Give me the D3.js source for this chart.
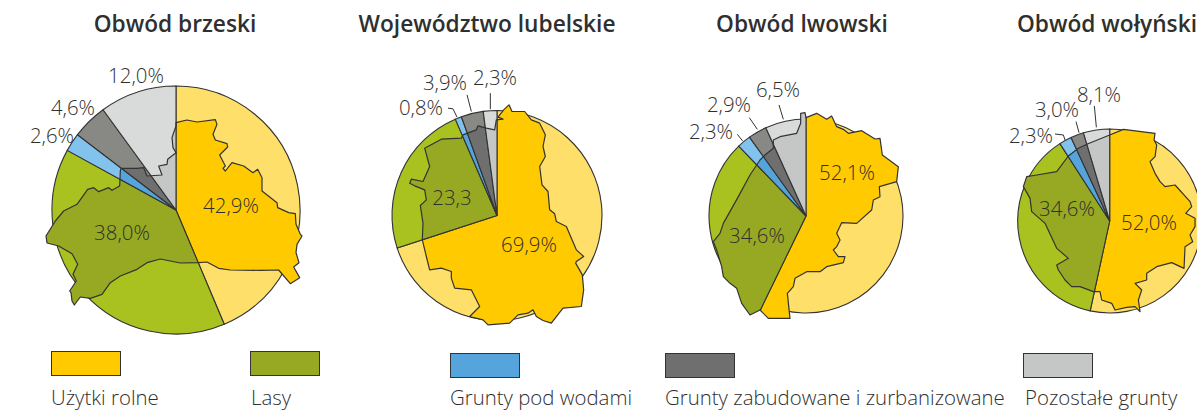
<!DOCTYPE html>
<html>
<head>
<meta charset="utf-8">
<script src="https://cdn.jsdelivr.net/npm/d3@7"></script>
<style>
  html, body { margin: 0; background: #fff; overflow: hidden; }
  text { font-family: "Open Sans", "Noto Sans", sans-serif; fill: #2f2f2e; font-weight: 300; }
</style>
</head>
<body>
<div id="chart"></div>
<script>
var categories = ['Użytki rolne', 'Lasy', 'Grunty pod wodami', 'Grunty zabudowane i zurbanizowane', 'Pozostałe grunty'];
var regions = ['Obwód brzeski', 'Województwo lubelskie', 'Obwód lwowski', 'Obwód wołyński'];

// printed percentages
var brzeskiLabels = ['42,9%', '38,0%', '2,6%', '4,6%', '12,0%'];
var lubelskieLabels = ['69,9%', '23,3', '0,8%', '3,9%', '2,3%'];
var lwowskiLabels = ['52,1%', '34,6%', '2,3%', '2,9%', '6,5%'];
var wolynskiLabels = ['52,0%', '34,6%', '2,3%', '3,0%', '8,1%'];

// wedge sizes as drawn, the printed numbers and the wedges do not always agree
var brzeskiValues = [43.6, 39.3, 2.4, 4.6, 10.0];
var lubelskieValues = [70.0, 23.5, 1.0, 3.4, 2.1];
var lwowskiValues = [57.2, 30.6, 2.3, 3.1, 6.8];
var wolynskiValues = [53.4, 37.5, 2.2, 2.3, 4.6];

// region silhouettes, traced on a 3x crop
var brzeskiOutline = [[437,185],[470,177],[500,183],[555,176],[560,190],[548,220],[555,237],[590,248],[592,258],[568,282],[585,315],[578,322],[585,330],[605,305],[640,315],[668,335],[682,325],[695,350],[695,390],[740,425],[742,440],[775,455],[795,458],[797,490],[810,520],[815,525],[800,550],[797,575],[806,605],[790,618],[808,650],[780,668],[745,627],[690,628],[600,627],[565,622],[530,603],[505,605],[450,606],[390,594],[350,605],[320,625],[270,645],[240,665],[215,700],[180,712],[150,708],[132,732],[125,720],[122,695],[118,690],[138,660],[128,640],[142,610],[125,578],[85,555],[50,546],[47,525],[75,480],[100,450],[140,430],[172,385],[190,380],[205,392],[235,380],[245,388],[268,375],[270,330],[272,322],[320,322],[340,320],[350,345],[395,342],[385,315],[410,310],[412,295],[437,275],[428,260],[425,230],[437,195]];
var lubelskieOutline = [[372,150],[388,135],[397,155],[435,155],[455,180],[480,190],[497,225],[490,260],[497,290],[480,320],[487,375],[505,395],[510,450],[525,462],[530,485],[560,500],[590,570],[612,590],[590,605],[588,610],[608,645],[612,690],[605,740],[550,745],[515,790],[490,782],[470,770],[460,750],[445,760],[415,765],[390,790],[325,795],[310,780],[270,770],[300,740],[285,710],[275,690],[225,685],[215,655],[215,635],[185,625],[150,630],[140,590],[128,540],[130,490],[122,437],[140,420],[135,390],[105,378],[90,370],[95,358],[130,365],[150,320],[135,265],[185,238],[245,235],[250,225],[290,210],[295,198],[320,205],[345,210],[350,180],[370,178],[355,172]];
var lwowskiOutline = [[362,130],[375,128],[378,143],[410,130],[440,148],[455,138],[470,170],[490,178],[505,190],[545,182],[585,207],[600,205],[607,255],[655,290],[650,335],[598,350],[600,380],[580,390],[575,420],[530,460],[485,458],[470,490],[480,510],[470,530],[460,540],[475,560],[495,560],[490,578],[440,590],[420,605],[380,605],[345,625],[340,650],[322,670],[330,745],[265,745],[240,720],[210,735],[185,700],[170,655],[150,640],[130,620],[125,590],[110,540],[100,515],[120,490],[130,460],[175,380],[210,315],[240,270],[255,255],[280,235],[280,210],[300,200],[350,190],[362,160]];
var wolynskiOutline = [[370,178],[465,190],[462,210],[470,225],[465,260],[450,275],[465,310],[480,335],[495,350],[525,345],[570,395],[575,410],[557,430],[585,445],[585,470],[570,495],[578,515],[555,530],[552,595],[515,578],[470,590],[440,610],[440,630],[405,640],[425,660],[415,690],[420,725],[405,710],[380,712],[345,720],[335,700],[305,690],[300,665],[280,665],[240,650],[215,650],[195,630],[175,600],[170,585],[205,565],[170,535],[135,460],[95,425],[90,385],[70,350],[80,320],[110,315],[170,305],[205,258],[235,235],[262,222],[329,195]];

// leader lines, same traced space
var brzeskiLeaders = [];
var lubelskieLeaders = [[[205,145],[220,147],[232,172]], [[262,105],[275,155]], [[332,100],[332,148]]];
var lwowskiLeaders = [[[172,193],[188,213]], [[208,143],[232,178]], [[297,105],[310,148]]];
var wolynskiLeaders = [[[165,192],[190,195],[195,210]], [[228,155],[237,188]], [[283,108],[289,172]]];

var darkColors = ['#ffcb00', '#97a923', '#55a5dc', '#706f6f', '#c5c7c6'];
var lightColors = ['#fddf6a', '#a9c21f', '#82c3ee', '#888985', '#d9dbda'];

var w = 1197, h = 410;
var layout = [
  {title: 175, cx: 176, cy: 210, r: 124, tx: 437, ty: 447,
   labels: brzeskiLabels, values: brzeskiValues, outline: brzeskiOutline, leaders: brzeskiLeaders,
   labelPos: [[231,206],[122,233],[52,136],[73,108],[136,76]]},
  {title: 487, cx: 497, cy: 215.5, r: 105, tx: 352, ty: 467,
   labels: lubelskieLabels, values: lubelskieValues, outline: lubelskieOutline, leaders: lubelskieLeaders,
   labelPos: [[529,245],[452,198],[421,108],[445,83],[495,78]]},
  {title: 802, cx: 806, cy: 216, r: 97, tx: 378, ty: 438,
   labels: lwowskiLabels, values: lwowskiValues, outline: lwowskiOutline, leaders: lwowskiLeaders,
   labelPos: [[847,173],[757,236],[711,132],[729,105],[778,90]]},
  {title: 1107, cx: 1109.7, cy: 221, r: 92, tx: 329, ty: 453,
   labels: wolynskiLabels, values: wolynskiValues, outline: wolynskiOutline, leaders: wolynskiLeaders,
   labelPos: [[1149,223],[1067,209],[1031,136],[1057,110],[1099,95]]}
];

var svg = d3.select('#chart').append('svg')
  .attr('width', w)
  .attr('height', h);

var pie = d3.pie().sort(null).value(function(d) { return d; });
var stroke = '#333';

layout.forEach(function(p, i) {
  svg.append('text')
    .attr('x', p.title)
    .attr('y', 32)
    .attr('text-anchor', 'middle')
    .attr('font-size', '22.7px')
    .style('font-weight', 600)
    .text(regions[i]);

  // traced crop was 3x, so the scale maps three trace units to one pixel
  var x = d3.scaleLinear().domain([p.tx - 3 * p.r, p.tx + 3 * p.r]).range([p.cx - p.r, p.cx + p.r]);
  var y = d3.scaleLinear().domain([p.ty - 3 * p.r, p.ty + 3 * p.r]).range([p.cy - p.r, p.cy + p.r]);
  var line = d3.line().x(function(d) { return x(d[0]); }).y(function(d) { return y(d[1]); });
  var arcs = pie(p.values);

  var light = d3.arc().innerRadius(0).outerRadius(p.r);
  var dark = d3.arc().innerRadius(0).outerRadius(p.r * 1.6);

  svg.append('clipPath').attr('id', 'region' + i)
    .append('path').attr('d', line(p.outline) + 'Z');

  var g = svg.append('g').attr('transform', 'translate(' + [p.cx, p.cy] + ')');
  g.selectAll('path.light')
    .data(arcs).enter()
    .append('path')
    .attr('class', 'light')
    .attr('d', light)
    .attr('fill', function(d, j) { return lightColors[j]; })
    .attr('stroke', stroke)
    .attr('stroke-width', 1.1);

  var clipped = svg.append('g').attr('clip-path', 'url(#region' + i + ')')
    .append('g').attr('transform', 'translate(' + [p.cx, p.cy] + ')');
  clipped.selectAll('path.dark')
    .data(arcs).enter()
    .append('path')
    .attr('class', 'dark')
    .attr('d', dark)
    .attr('fill', function(d, j) { return darkColors[j]; })
    .attr('stroke', stroke)
    .attr('stroke-width', 1.1);

  svg.append('path')
    .attr('d', line(p.outline) + 'Z')
    .attr('fill', 'none')
    .attr('stroke', stroke)
    .attr('stroke-width', 1.2)
    .attr('stroke-linejoin', 'round');

  svg.selectAll('path.leader' + i)
    .data(p.leaders).enter()
    .append('path')
    .attr('class', 'leader' + i)
    .attr('d', line)
    .attr('fill', 'none')
    .attr('stroke', stroke)
    .attr('stroke-width', 1);

  svg.selectAll('text.pct' + i)
    .data(p.labels).enter()
    .append('text')
    .attr('class', 'pct' + i)
    .attr('x', function(d, j) { return p.labelPos[j][0]; })
    .attr('y', function(d, j) { return p.labelPos[j][1]; })
    .attr('dy', '0.35em')
    .attr('text-anchor', 'middle')
    .attr('font-size', '20.4px')
    .text(function(d) { return d; });
});

// legend
var legendX = [51, 250, 450, 665, 1023];
var legendY = [351, 351, 353, 353, 353];
var legendTextX = [51, 251, 450, 665, 1025];

svg.selectAll('rect.key')
  .data(categories).enter()
  .append('rect')
  .attr('class', 'key')
  .attr('x', function(d, i) { return legendX[i] + 0.5; })
  .attr('y', function(d, i) { return legendY[i] + 0.5; })
  .attr('width', 69)
  .attr('height', 24)
  .attr('fill', function(d, i) { return darkColors[i]; })
  .attr('stroke', stroke)
  .attr('stroke-width', 1);

svg.selectAll('text.key')
  .data(categories).enter()
  .append('text')
  .attr('class', 'key')
  .attr('x', function(d, i) { return legendTextX[i]; })
  .attr('y', 404.5)
  .attr('font-size', '20.4px')
  .text(function(d) { return d; });
</script>
</body>
</html>
